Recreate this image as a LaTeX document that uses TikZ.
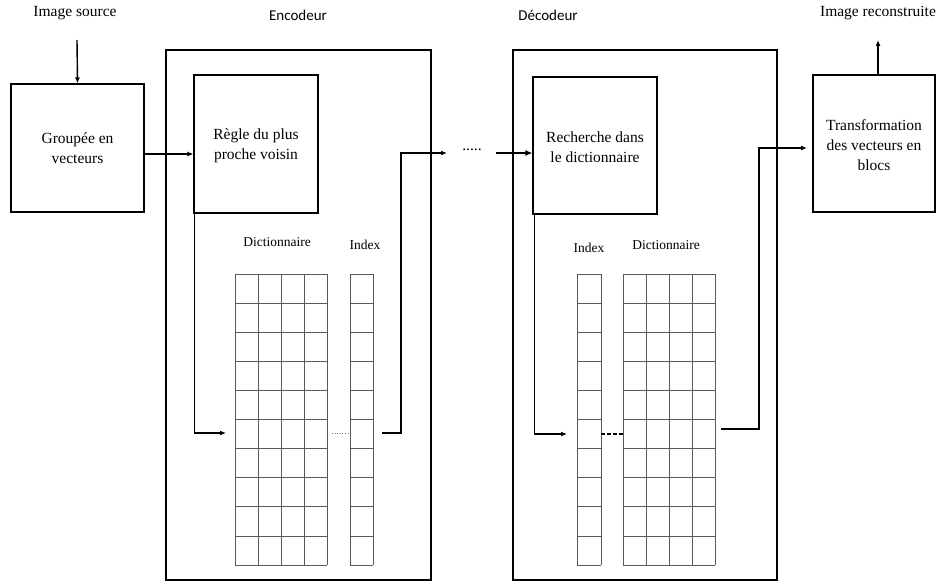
\documentclass[tikz,border=0pt]{standalone}
\usepackage{fontspec}
\setmainfont{Liberation Serif}
\newfontfamily\labelsans{Carlito}
\usetikzlibrary{arrows.meta,calc}

\tikzset{
  block/.style={draw=black, line width=1.2pt, inner sep=0pt},
  blocktext/.style={inner sep=0pt, align=center, font=\rmfamily\fontsize{15.5}{20}\selectfont},
  frame/.style={draw=black, line width=1.2pt, inner sep=0pt},
  toplabel/.style={inner sep=0pt, font=\rmfamily\fontsize{15.5}{18}\selectfont},
  sidelabel/.style={inner sep=0pt, font=\labelsans\fontsize{15}{18}\selectfont},
  gridlabel/.style={inner sep=0pt, font=\rmfamily\fontsize{13.5}{16}\selectfont},
  cellline/.style={draw=black!65, line width=0.8pt},
  link/.style={draw=black, line width=1.4pt, -{Latex[length=6pt,width=5pt]}},
  heavylink/.style={draw=black, line width=2.4pt, -{Latex[length=7pt,width=6pt]}},
}

\begin{document}
\begin{tikzpicture}[x=1pt, y=-1pt]
\useasboundingbox (0,0) rectangle (936,588);

% titles
\node[toplabel] (srcT) at (75,13) {Image source};
\node[sidelabel] (encT) at (298,15) {Encodeur};
\node[sidelabel] (decT) at (548,15) {Décodeur};
\node[toplabel] (outT) at (878,13) {Image reconstruite};

% encoder and decoder frames
\node[frame, minimum width=265pt, minimum height=530pt] (enc) at (298.5,315) {};
\node[frame, minimum width=264pt, minimum height=530pt] (dec) at (645,315) {};

% processing blocks (frame and caption as separate nodes)
\node[block, minimum width=133pt, minimum height=128pt] (grp) at (77.5,148) {};
\node[blocktext] (grpT) at (grp.center) {Groupée en\\vecteurs};
\node[block, minimum width=124pt, minimum height=138pt] (rule) at (256,144) {};
\node[blocktext] (ruleT) at ($(rule.center)+(0,2)$) {Règle du plus\\proche voisin};
\node[block, minimum width=124pt, minimum height=137pt] (rech) at (595,145.5) {};
\node[blocktext] (rechT) at ($(rech.center)+(0,2)$) {Recherche dans\\le dictionnaire};
\node[block, minimum width=122pt, minimum height=137pt] (trans) at (874,143.5) {};
\node[blocktext] (transT) at ($(trans.center)+(0,2)$) {Transformation\\des vecteurs en\\blocs};

% table captions
\node[gridlabel] (encDictT) at (277,242) {Dictionnaire};
\node[gridlabel] (encIdxT) at (365,245) {Index};
\node[gridlabel] (decIdxT) at (589,248) {Index};
\node[gridlabel] (decDictT) at (666,245) {Dictionnaire};

% codebook and index tables
\def\rowtop{274}
\def\rowh{29.1}
\foreach \i in {0,...,10} {
  \draw[cellline] (235,\rowtop+\i*\rowh) -- (327,\rowtop+\i*\rowh);
  \draw[cellline] (350,\rowtop+\i*\rowh) -- (373,\rowtop+\i*\rowh);
  \draw[cellline] (577,\rowtop+\i*\rowh) -- (601,\rowtop+\i*\rowh);
  \draw[cellline] (623,\rowtop+\i*\rowh) -- (715,\rowtop+\i*\rowh);
}
\foreach \x in {235,258,281,304,327,350,373,577,601,623,646,669,692,715} {
  \draw[cellline] (\x,\rowtop) -- (\x,\rowtop+10*\rowh);
}

% connector end points
\coordinate (srcIn) at (77,40);
\coordinate (encRow) at (226,433);
\coordinate (encIdxOut) at (382,433);
\coordinate (encBend) at (401,433);
\coordinate (encTop) at (401,153);
\coordinate (chanEnd) at (447,153);
\coordinate (chanStart) at (496,153);
\coordinate (decRow) at (567,434);
\coordinate (decDictOut) at (721,429);
\coordinate (decBend) at (759,429);
\coordinate (decTop) at (759,148);
\coordinate (transIn) at (807,148);
\coordinate (outEnd) at (878,40);

% links
\draw[link] (srcIn) -- (grp.north);
\draw[link] ($(grp.east)+(0,6)$) -- ($(rule.west)+(0,10)$);
\draw[link] ($(rule.south west)+(1,0)$) |- (encRow);
\draw[draw=blue!60, line width=0.6pt, dotted] (332,433) -- (350,433);
\draw[link] (encIdxOut) -- (encBend) -- (encTop) -- (chanEnd);
\node[inner sep=0pt, font=\rmfamily\fontsize{15.5}{18}\selectfont] (dots) at (472,150) {.....};
\draw[heavylink] (chanStart) -- ($(rech.west)+(0,7.5)$);
\draw[link] ($(rech.south west)+(2,0)$) |- (decRow);
\draw[draw=black, line width=1.2pt, dash pattern=on 4pt off 2pt] (601,434) -- (623,434);
\draw[link] (decDictOut) -- (decBend) -- (decTop) -- (transIn);
\draw[link] ([xshift=4pt]trans.north) -- (outEnd);
\end{tikzpicture}
\end{document}
